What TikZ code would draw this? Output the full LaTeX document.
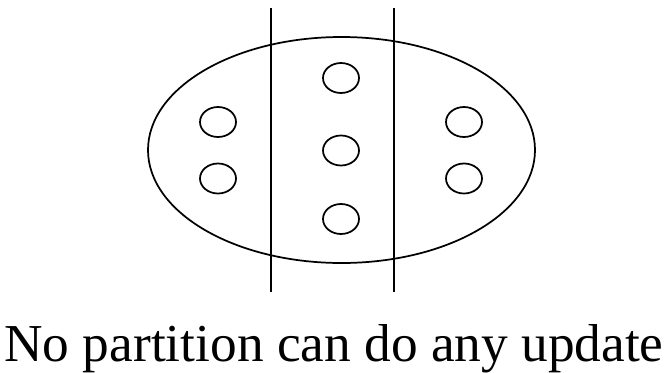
\documentclass[tikz,border=0pt]{standalone}
\usepackage{fontspec}
\setmainfont{Liberation Serif}
\begin{document}
\begin{tikzpicture}[x=0.75pt, y=-0.75pt, line width=1.3pt]
		\useasboundingbox (0, 0) rectangle (668, 372);
		\draw (341.5, 150) ellipse (193.5 and 113);
		\draw (271, 8) -- (271, 292);
		\draw (394, 8) -- (394, 292);
		
		\draw (218, 122) ellipse (18 and 15);
		\draw (218, 178.5) ellipse (18 and 15);
		
		\draw (341, 78) ellipse (18 and 15);
		\draw (341, 150.5) ellipse (18 and 15);
		\draw (341, 219) ellipse (18 and 15);
		
		\draw (464, 122) ellipse (18 and 15);
		\draw (464, 178.5) ellipse (18 and 15);
		
		\node[anchor=base] (caption) at (334, 361) {\fontsize{40}{48}\selectfont No partition can do any update};
	\end{tikzpicture}
\end{document}
